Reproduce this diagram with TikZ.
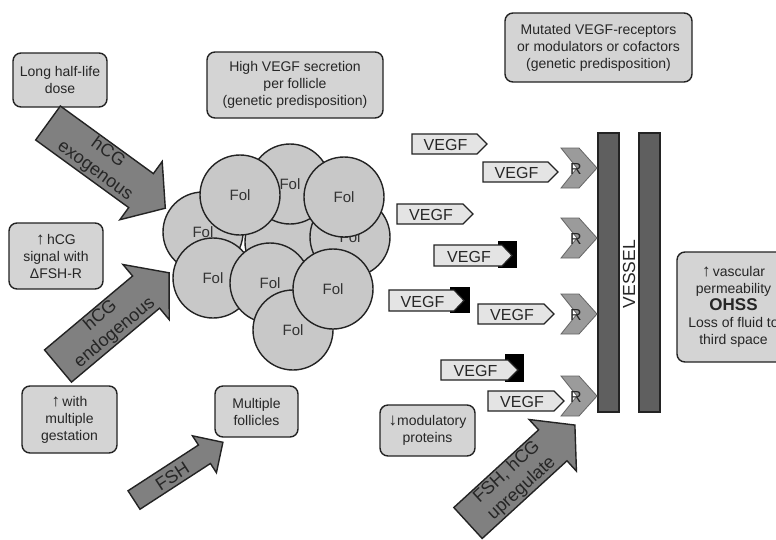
\documentclass[tikz,border=0pt]{standalone}
\usepackage{fontspec}
\setmainfont{Liberation Sans}
\definecolor{boxfill}{RGB}{212,212,212}
\definecolor{folfill}{RGB}{200,200,200}
\definecolor{arrfill}{RGB}{128,128,128}
\definecolor{vesfill}{RGB}{95,95,95}
\definecolor{tagfill}{RGB}{228,228,228}
\definecolor{recfill}{RGB}{155,155,155}
\definecolor{edge}{RGB}{35,35,35}
\newcommand{\uparr}{{\fontsize{17}{17}\selectfont ↑}}
\newcommand{\downarr}{{\fontsize{17}{17}\selectfont ↓}}
\tikzset{
  infobox/.style={draw=edge, line width=1.4pt, fill=boxfill, rounded corners=8pt,
    align=center, inner sep=0pt, font=\fontsize{14}{17}\selectfont, text=black!85},
  fol/.style={circle, draw=edge, line width=1.4pt, fill=folfill, minimum size=80pt,
    inner sep=0pt, font=\fontsize{15}{17}\selectfont, text=black!80},
  fat/.style={draw=edge, line width=1.4pt, fill=arrfill, line join=miter},
  arrtext/.style={align=center, inner sep=0pt, font=\fontsize{18}{22}\selectfont, text=black!85},
  tagshape/.style={draw=edge, line width=1.2pt, fill=tagfill},
  tagtext/.style={inner sep=0pt, font=\fontsize{16}{18}\selectfont, text=black!85},
  recshape/.style={draw=edge!70, line width=0.8pt, fill=recfill},
  rectext/.style={inner sep=0pt, font=\fontsize{16}{18}\selectfont, text=black!85},
  vessel/.style={draw=edge, line width=1.2pt, fill=vesfill},
  blocker/.style={fill=black, draw=black}
}
\newcommand{\vegftag}[5]{%
  \draw[tagshape] (#2,#4) -- ({#3-10},#4) -- (#3,{(#4+#5)/2}) -- ({#3-10},#5) -- (#2,#5) -- cycle;
  \node[tagtext] (#1) at ({(#2+#3-10)/2+1},{(#4+#5)/2+1}) {VEGF};}
\newcommand{\receptor}[2]{%
  \draw[recshape] (597,#2) -- (579,{#2-20}) -- (561,{#2-20}) -- (577,#2) -- (561,{#2+20}) -- (579,{#2+20}) -- cycle;
  \node[rectext] (#1) at (576,{#2+1}) {R};}
\begin{document}
\begin{tikzpicture}[x=1pt,y=-1pt]
\useasboundingbox (0,0) rectangle (776,539);
\fill[white] (0,0) rectangle (776,539);

% info boxes
\node[infobox, minimum width=94pt, minimum height=54pt] (dose) at (60,80) {Long half-life\\dose};
\node[infobox, minimum width=94pt, minimum height=66pt] (hcgsig) at (56,256) {\uparr\,hCG\\signal with\\ΔFSH-R};
\node[infobox, minimum width=95pt, minimum height=67pt] (gest) at (69.5,419.5) {\uparr\,with\\multiple\\gestation};
\node[infobox, minimum width=83pt, minimum height=51pt] (mult) at (256.5,411.5) {Multiple\\follicles};
\node[infobox, minimum width=176pt, minimum height=66pt] (high) at (295,85) {High VEGF secretion\\per follicle\\(genetic predisposition)};
\node[infobox, minimum width=187pt, minimum height=69pt] (mut) at (598.5,47.5) {Mutated VEGF-receptors\\or modulators or cofactors\\(genetic predisposition)};
\node[infobox, minimum width=95pt, minimum height=51pt] (modul) at (427.5,430.5) {\downarr modulatory\\proteins};
\node[infobox, minimum width=113pt, minimum height=110pt] (ohss) at (733.5,307) {\uparr\,vascular\\permeability\\{\fontsize{17}{19}\selectfont\bfseries OHSS}\\Loss of fluid to\\third space};

% follicles (back to front)
\node[fol] (f0) at (285,242) {};
\node[fol] (f1) at (350,237) {Fol};
\node[fol] (f2) at (203,232) {Fol};
\node[fol] (f3) at (290,184) {Fol};
\node[fol] (f4) at (240,195) {Fol};
\node[fol] (f5) at (344,197) {Fol};
\node[fol] (f6) at (213,278) {Fol};
\node[fol] (f7) at (270,283) {Fol};
\node[fol] (f8) at (293,330) {Fol};
\node[fol] (f9) at (333,289) {Fol};

% fat arrows
\begin{scope}[shift={(48,123)}, rotate=-36]
  \draw[fat] (0,-21) -- (115,-21) -- (115,-36) -- (145,0) -- (115,36) -- (115,21) -- (0,21) -- cycle;
  \node[arrtext, transform shape] (exo) at (66,0) {hCG\\exogenous};
\end{scope}
\begin{scope}[shift={(58,366)}, rotate=40]
  \draw[fat] (0,-21) -- (115,-21) -- (115,-36) -- (145,0) -- (115,36) -- (115,21) -- (0,21) -- cycle;
  \node[arrtext, transform shape] (endo) at (65,0) {hCG\\endogenous};
\end{scope}
\begin{scope}[shift={(134,500)}, rotate=33]
  \draw[fat] (0,-11) -- (84,-11) -- (84,-22) -- (106,0) -- (84,22) -- (84,11) -- (0,11) -- cycle;
  \node[arrtext, transform shape] (fsh) at (45,1) {FSH};
\end{scope}
\begin{scope}[shift={(468,523)}, rotate=42.5]
  \draw[fat] (0,-21) -- (115,-21) -- (115,-35) -- (145,0) -- (115,35) -- (115,21) -- (0,21) -- cycle;
  \node[arrtext, transform shape] (upreg) at (63,0) {FSH, hCG\\upregulate};
\end{scope}

% vessel
\draw[vessel] (598,133) rectangle (619,412);
\draw[vessel] (639,133) rectangle (660,412);
\node[rotate=90, inner sep=0pt, font=\fontsize{17.5}{19}\selectfont, text=black!85] (ves) at (629,274) {VESSEL};

% receptors
\receptor{r1}{168}
\receptor{r2}{238}
\receptor{r3}{314}
\receptor{r4}{396}

% VEGF tags
\vegftag{v1}{412}{487}{134}{154}
\vegftag{v2}{483}{558}{162}{182}
\vegftag{v3}{397}{473}{204}{224}
\fill[blocker] (498,241) rectangle (516,267);
\vegftag{v4}{434}{512}{245}{266}
\fill[blocker] (450,287) rectangle (469,312);
\vegftag{v5}{389}{464}{290}{311}
\vegftag{v6}{478}{554}{304}{324}
\fill[blocker] (505,354) rectangle (523,381);
\vegftag{v7}{441}{518}{360}{380}
\vegftag{v8}{488}{564}{391}{411}
\end{tikzpicture}
\end{document}
